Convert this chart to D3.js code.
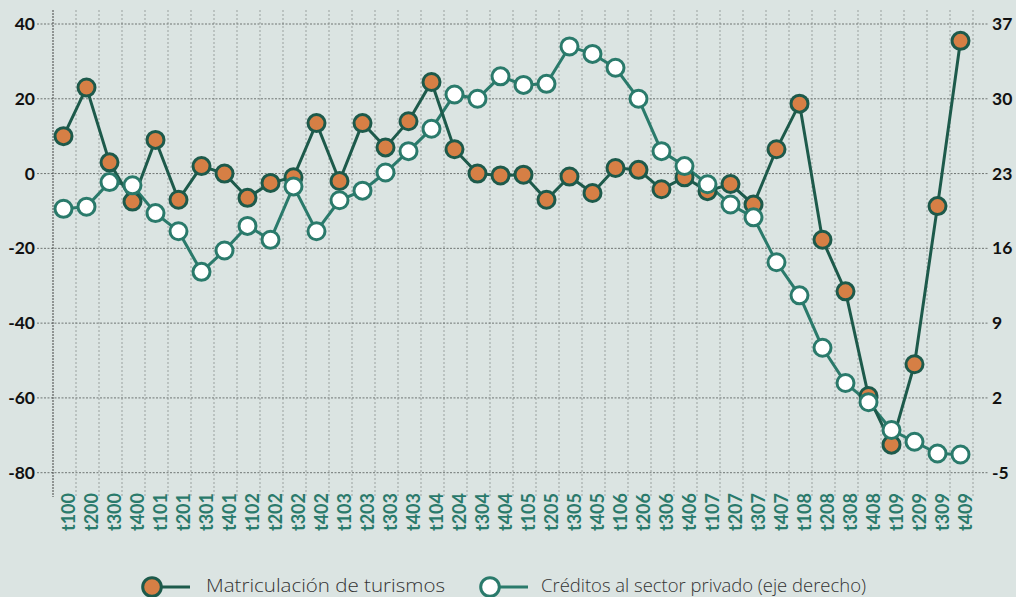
<!DOCTYPE html>
<html><head><meta charset="utf-8">
<script src="https://cdn.jsdelivr.net/npm/d3@7"></script>
<style>
html,body{margin:0;padding:0;background:#dbe4e2;}
svg{display:block;}
</style></head>
<body>
<svg id="chart" width="1016" height="597"></svg>
<script>
const categories = ["t100","t200","t300","t400","t101","t201","t301","t401","t102","t202","t302","t402","t103","t203","t303","t403","t104","t204","t304","t404","t105","t205","t305","t405","t106","t206","t306","t406","t107","t207","t307","t407","t108","t208","t308","t408","t109","t209","t309","t409"];
const matriculacion = [10,23,3,-7.5,9,-7,2,0,-6.5,-2.5,-1,13.5,-2,13.5,7,14,24.5,6.5,0,-0.5,-0.3,-7,-0.8,-5.2,1.5,1,-4.2,-1,-4.7,-2.8,-8.3,6.5,18.7,-17.7,-31.5,-59.5,-72.5,-51,-8.7,35.5];
const creditos = [19.7,19.9,22.2,21.9,19.3,17.6,13.8,15.8,18.1,16.8,21.8,17.6,20.5,21.4,23.1,25.1,27.2,30.4,30,32.1,31.3,31.4,34.9,34.2,32.9,30,25.1,23.7,22,20.1,18.9,14.7,11.6,6.7,3.4,1.6,-1,-2.1,-3.2,-3.3];
const leftTicks = [40,20,0,-20,-40,-60,-80];
const rightTicks = [37,30,23,16,9,2,-5];
const seriesNames = ["Matriculación de turismos","Créditos al sector privado (eje derecho)"];

const svg = d3.select("#chart");
const x = d3.scaleBand().domain(categories).range([53,973]).paddingInner(0).paddingOuter(0);
const yL = d3.scaleLinear().domain([-80,40]).range([472.7,24]);
const yR = d3.scaleLinear().domain([-5,37]).range([472.7,24]);

const dark = "#1d5a4b", teal = "#2a7a6b", orange = "#d67f45";
const fontF = "Lato, 'Noto Sans', sans-serif";
const fmt = d => String(d);

// vertical gridlines
const g = svg.append("g");
categories.forEach((c,i)=>{
  const xx = x(c)+x.bandwidth();
  g.append("line").attr("x1",xx).attr("x2",xx).attr("y1",10).attr("y2",497)
   .attr("stroke","#9aa19f").attr("stroke-width",1).attr("stroke-dasharray","2,2");
});
// horizontal gridlines
leftTicks.forEach(t=>{
  g.append("line").attr("x1",37).attr("x2",988).attr("y1",yL(t)).attr("y2",yL(t))
   .attr("stroke","#6f7573").attr("stroke-width",1).attr("stroke-dasharray","2,1.5");
});
// left axis line
g.append("line").attr("x1",53).attr("x2",53).attr("y1",10).attr("y2",497)
 .attr("stroke","#444").attr("stroke-width",1).attr("stroke-dasharray","2,1");

// left axis labels
const axL = svg.append("g").attr("transform","translate(35,0)")
  .call(d3.axisLeft(yL).tickValues(leftTicks).tickFormat(fmt).tickSize(0).tickPadding(0));
axL.select(".domain").remove();
axL.selectAll("text").attr("font-family",fontF).attr("font-weight","bold").attr("font-size",17.5).attr("fill","#111");

const axR = svg.append("g").attr("transform","translate(992,0)")
  .call(d3.axisRight(yR).tickValues(rightTicks).tickFormat(fmt).tickSize(0).tickPadding(0));
axR.select(".domain").remove();
axR.selectAll("text").attr("font-family",fontF).attr("font-weight","bold").attr("font-size",17.5).attr("fill","#111");

// x labels
const axX = svg.append("g").attr("transform","translate(0,493)")
  .call(d3.axisBottom(x).tickSize(0).tickPadding(0));
axX.select(".domain").remove();
axX.selectAll("text").attr("font-family",fontF).attr("font-weight","bold").attr("font-size",18).attr("fill",teal)
  .attr("text-anchor","end").attr("x",0).attr("y",0).attr("dy","10.5px")
  .attr("transform","rotate(-90)");

const cx = c => x(c)+x.bandwidth()/2 - 1;

// credit series (right axis)
svg.append("path").datum(creditos)
  .attr("d", d3.line().x((d,i)=>cx(categories[i])).y(d=>yR(d)))
  .attr("fill","none").attr("stroke",teal).attr("stroke-width",3);
// matriculacion
svg.append("path").datum(matriculacion)
  .attr("d", d3.line().x((d,i)=>cx(categories[i])).y(d=>yL(d)))
  .attr("fill","none").attr("stroke",dark).attr("stroke-width",3);

svg.append("g").selectAll("circle").data(matriculacion).join("circle")
  .attr("cx",(d,i)=>cx(categories[i])).attr("cy",d=>yL(d)).attr("r",8.5)
  .attr("fill",orange).attr("stroke",dark).attr("stroke-width",3);
svg.append("g").selectAll("circle").data(creditos).join("circle")
  .attr("cx",(d,i)=>cx(categories[i])).attr("cy",d=>yR(d)).attr("r",8.5)
  .attr("fill","#fff").attr("stroke",teal).attr("stroke-width",3);

// legend
const leg = [{x:152, fill:orange, stroke:dark, line:dark, tx:206, w:239},{x:490, fill:"#fff", stroke:teal, line:teal, tx:541, w:325}];
leg.forEach((l,i)=>{
  svg.append("line").attr("x1",l.x).attr("x2",l.x+38).attr("y1",587).attr("y2",587).attr("stroke",l.line).attr("stroke-width",3);
  svg.append("circle").attr("cx",l.x).attr("cy",587).attr("r",9.3).attr("fill",l.fill).attr("stroke",l.stroke).attr("stroke-width",3);
  svg.append("text").attr("x",l.tx).attr("y",592).text(seriesNames[i])
    .attr("font-family","'Open Sans', Lato, sans-serif").attr("font-weight",300).attr("font-size",19).attr("fill","#333")
    .attr("textLength",l.w).attr("lengthAdjust","spacingAndGlyphs");
});
</script>
</body></html>
